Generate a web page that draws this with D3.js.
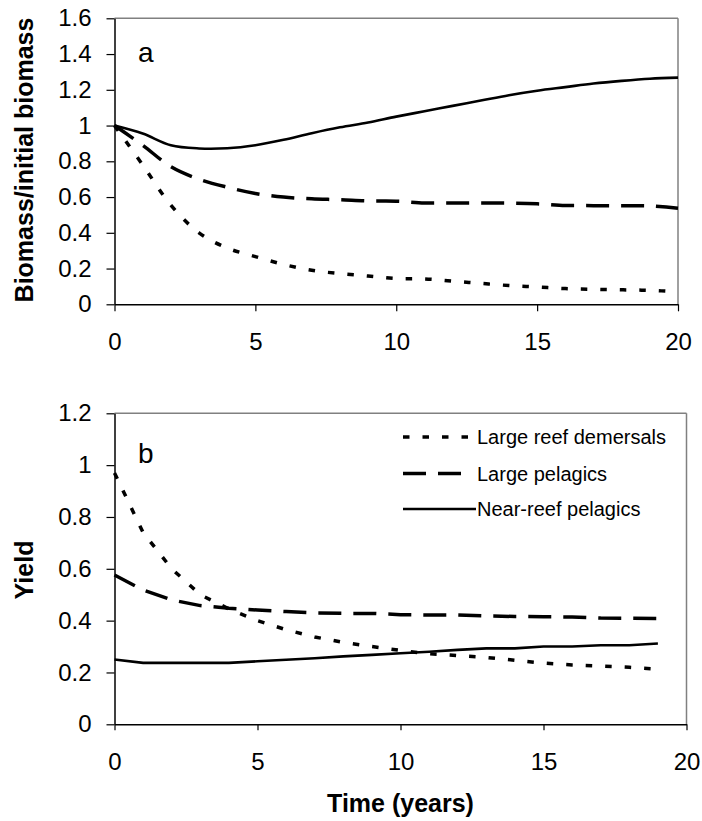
<!DOCTYPE html>
<html>
<head>
<meta charset="utf-8">
<script src="https://cdn.jsdelivr.net/npm/d3@7"></script>
<style>
  html, body { margin: 0; padding: 0; background: #fff; }
  svg { display: block; }
  text { font-family: Arial, "Liberation Sans", sans-serif; fill: #000; }
</style>
</head>
<body>
<svg id="chart" width="702" height="821"></svg>
<script>
// ---------- data ----------
const yearsTop = d3.range(0, 21);
const yearsBottom = d3.range(0, 20);

const seriesNames = ["Large reef demersals", "Large pelagics", "Near-reef pelagics"];

// Panel a: biomass / initial biomass
const biomassDemersals = [1.0, 0.78, 0.555, 0.40, 0.315, 0.267, 0.223, 0.19, 0.172, 0.158, 0.144, 0.142, 0.13, 0.117, 0.105, 0.097, 0.088, 0.084, 0.081, 0.078, 0.07];
const biomassPelagics  = [1.0, 0.89, 0.77, 0.70, 0.655, 0.62, 0.60, 0.59, 0.585, 0.578, 0.577, 0.567, 0.567, 0.567, 0.566, 0.562, 0.553, 0.552, 0.551, 0.55, 0.538];
const biomassNearReef  = [1.0, 0.955, 0.89, 0.872, 0.873, 0.89, 0.92, 0.957, 0.99, 1.017, 1.05, 1.08, 1.11, 1.14, 1.17, 1.195, 1.215, 1.235, 1.25, 1.262, 1.268];

// Panel b: yield
const yieldDemersals = [0.97, 0.74, 0.60, 0.50, 0.445, 0.40, 0.365, 0.337, 0.316, 0.30, 0.285, 0.272, 0.265, 0.258, 0.247, 0.236, 0.229, 0.225, 0.22, 0.213];
const yieldPelagics  = [0.576, 0.518, 0.48, 0.458, 0.448, 0.441, 0.435, 0.43, 0.428, 0.428, 0.423, 0.422, 0.422, 0.418, 0.416, 0.415, 0.414, 0.41, 0.409, 0.408];
const yieldNearReef  = [0.25, 0.237, 0.237, 0.237, 0.237, 0.243, 0.249, 0.255, 0.262, 0.268, 0.274, 0.28, 0.287, 0.293, 0.293, 0.30, 0.30, 0.305, 0.305, 0.312];

const xTicks = [0, 5, 10, 15, 20];
const yTicksTop = [0, 0.2, 0.4, 0.6, 0.8, 1, 1.2, 1.4, 1.6];
const yTicksBottom = [0, 0.2, 0.4, 0.6, 0.8, 1, 1.2];

// ---------- styles ----------
const styles = [
  { dash: "6.5,13", width: 3.5 },   // dotted
  { dash: "23,12", width: 3.5 },    // dashed
  { dash: null, width: 2.6 }        // solid
];

const svg = d3.select("#chart");
const fmt = d => String(+d.toFixed(1));

function panel(cfg) {
  const x = d3.scaleLinear().domain([0, 20]).range([cfg.left, cfg.right]);
  const y = d3.scaleLinear().domain([0, cfg.ymax]).range([cfg.bottom, cfg.top]);
  const g = svg.append("g");

  // frame (top & right, gray)
  g.append("line").attr("x1", cfg.left).attr("x2", cfg.right).attr("y1", cfg.top).attr("y2", cfg.top)
    .attr("stroke", "#808080").attr("stroke-width", 1.5);
  g.append("line").attr("x1", cfg.right).attr("x2", cfg.right).attr("y1", cfg.top).attr("y2", cfg.bottom)
    .attr("stroke", "#808080").attr("stroke-width", 1.5);

  // axes
  const ax = g.append("g").attr("transform", `translate(0,${cfg.bottom})`)
    .call(d3.axisBottom(x).tickValues(xTicks).tickFormat(d3.format("d"))
      .tickSize(cfg.xTickSize).tickSizeOuter(0).tickPadding(cfg.xPad));
  const ay = g.append("g").attr("transform", `translate(${cfg.left},0)`)
    .call(d3.axisLeft(y).tickValues(cfg.yTicks).tickFormat(fmt)
      .tickSize(8).tickSizeOuter(0).tickPadding(15));
  [ax, ay].forEach(a => {
    a.select(".domain").attr("stroke", "#000").attr("stroke-width", 1.5);
    a.selectAll(".tick line").attr("stroke", "#000").attr("stroke-width", 1.2);
    a.selectAll(".tick text").attr("font-size", 24).attr("font-family", "Arial, 'Liberation Sans', sans-serif").attr("fill", "#000");
  });

  // y title
  g.append("text")
    .attr("transform", `translate(33,${cfg.yTitleY}) rotate(-90)`)
    .attr("text-anchor", "middle")
    .attr("font-size", 25).attr("font-weight", "bold")
    .text(cfg.yTitle);

  // panel letter
  g.append("text").attr("x", 138).attr("y", cfg.letterY)
    .attr("font-size", 28).text(cfg.letter);

  // lines
  const line = d3.line().x(d => x(d[0])).y(d => y(d[1])).curve(cfg.curve);
  cfg.series.forEach((vals, i) => {
    const pts = cfg.years.map((yr, j) => [yr, vals[j]]);
    const p = g.append("path").datum(pts).attr("d", line)
      .attr("fill", "none").attr("stroke", "#000")
      .attr("stroke-width", styles[i].width);
    if (styles[i].dash) p.attr("stroke-dasharray", styles[i].dash);
  });
  return { x, y, g };
}

panel({
  left: 114.5, right: 678, top: 18.3, bottom: 304.3, ymax: 1.6,
  yTicks: yTicksTop, xTickSize: 7, xPad: 22,
  yTitle: "Biomass/initial biomass", yTitleY: 160,
  letter: "a", letterY: 62,
  years: yearsTop,
  series: [biomassDemersals, biomassPelagics, biomassNearReef],
  curve: d3.curveCatmullRom.alpha(0.5)
});

const b = panel({
  left: 114.5, right: 686.5, top: 413.3, bottom: 724.3, ymax: 1.2,
  yTicks: yTicksBottom, xTickSize: 6, xPad: 22.5,
  yTitle: "Yield", yTitleY: 570,
  letter: "b", letterY: 463,
  years: yearsBottom,
  series: [yieldDemersals, yieldPelagics, yieldNearReef],
  curve: d3.curveLinear
});

// x title
svg.append("text").attr("x", 400.5).attr("y", 811.5).attr("text-anchor", "middle")
  .attr("font-size", 25).attr("font-weight", "bold").text("Time (years)");

// legend
const legendRows = [437, 473.5, 509];
const legendEnds = [475, 462, 476];
seriesNames.forEach((name, i) => {
  const l = svg.append("line").attr("x1", 403).attr("x2", legendEnds[i])
    .attr("y1", legendRows[i]).attr("y2", legendRows[i])
    .attr("stroke", "#000").attr("stroke-width", styles[i].width);
  if (styles[i].dash) l.attr("stroke-dasharray", styles[i].dash);
  svg.append("text").attr("x", 477).attr("y", legendRows[i] + 7)
    .attr("font-size", 20).text(name);
});
</script>
</body>
</html>
